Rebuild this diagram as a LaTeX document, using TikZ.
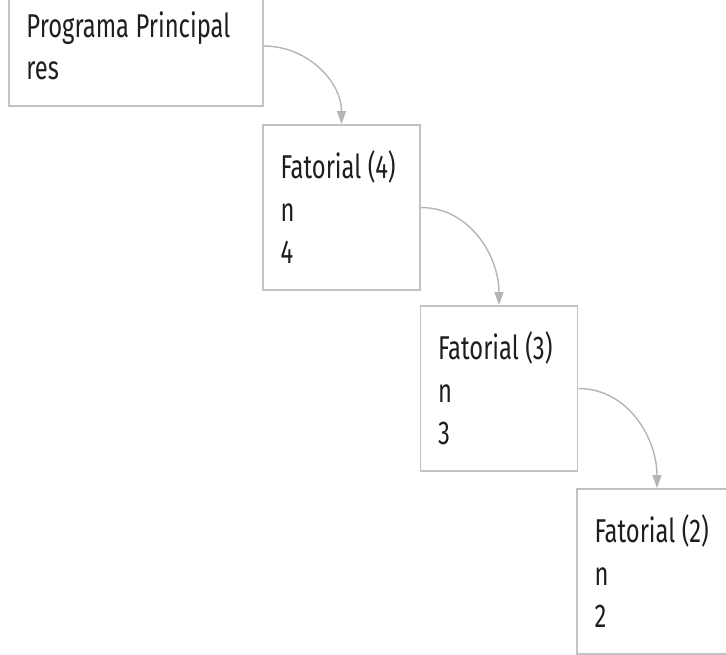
\documentclass[tikz,border=0pt]{standalone}
\usepackage{fontspec}
\setmainfont{Fira Sans}[FakeStretch=0.72]
\usetikzlibrary{arrows.meta}
\definecolor{boxline}{HTML}{C2C2C2}
\definecolor{linkline}{HTML}{B5B5B5}
\definecolor{ink}{HTML}{1E1E1E}
\begin{document}
\begin{tikzpicture}[x=1pt, y=-1pt,
  frame/.style={draw=boxline, line width=1.8pt, fill=white, rectangle,
    inner xsep=17.5pt, inner ysep=0pt, text=ink,
    font=\fontsize{33}{42.5}\selectfont,
    execute at begin node={\spaceskip=6.5pt plus 1pt\relax}},
  link/.style={draw=linkline, line width=1.4pt,
    -{Triangle[length=13pt, width=9pt]}}]
  \useasboundingbox (0,0) rectangle (726,654);
  \clip (0,0) rectangle (726,654);
  \node[frame, text width=219pt, minimum height=120pt] (main) at (136,46)
    {Programa Principal\\res};
  \node[frame, text width=122pt, minimum height=165pt] (f4) at (341.5,207.5)
    {Fatorial (4)\\n\\4};
  \node[frame, text width=122pt, minimum height=165pt] (f3) at (499,388.5)
    {Fatorial (3)\\n\\3};
  \node[frame, text width=125pt, minimum height=165pt] (f2) at (657,571.5)
    {Fatorial (2)\\n\\2};
  \draw[link] (main.east) to[out=0, in=90] (f4.north);
  \draw[link] (f4.east) to[out=0, in=90] (f3.north);
  \draw[link] (f3.east) to[out=0, in=90] (f2.north);
\end{tikzpicture}
\end{document}
